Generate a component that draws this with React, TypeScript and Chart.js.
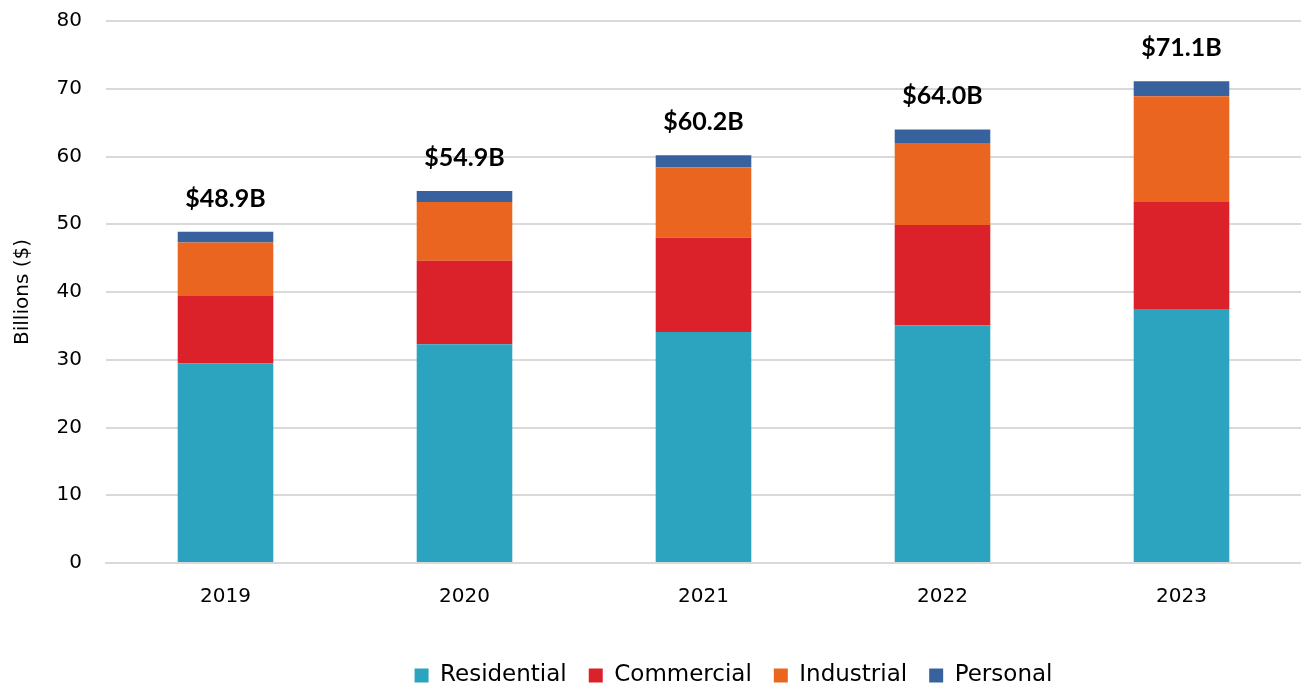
import React, { useEffect, useRef } from "react";
import { Chart, registerables } from "chart.js";

Chart.register(...registerables);

const years = ["2019", "2020", "2021", "2022", "2023"];
const residential = [29.5, 32.3, 34.1, 35.1, 37.5];
const commercial = [9.9, 12.3, 13.9, 14.8, 15.8];
const industrial = [7.9, 8.7, 10.4, 12.1, 15.6];
const personal = [1.6, 1.6, 1.8, 2.0, 2.2];
const totalLabels = ["$48.9B", "$54.9B", "$60.2B", "$64.0B", "$71.1B"];

const FONT = "'DejaVu Sans', 'Noto Sans', sans-serif";
const CANVAS_H = 697;
const LEGEND_SHIFT = 83;

const totalsPlugin = {
  id: "totals",
  afterLayout(chart: any) {
    const lg = chart.legend;
    if (lg) {
      lg.left += LEGEND_SHIFT;
      lg.right += LEGEND_SHIFT;
    }
  },
  afterDatasetsDraw(chart: any) {
    const ctx = chart.ctx;
    const lastMeta = chart.getDatasetMeta(chart.data.datasets.length - 1);
    ctx.save();
    ctx.font = "bold 25px Lato, 'Liberation Sans', sans-serif";
    ctx.fillStyle = "#000000";
    ctx.textAlign = "center";
    ctx.textBaseline = "middle";
    lastMeta.data.forEach((bar: any, i: number) => {
      ctx.fillText(totalLabels[i], bar.x, bar.y - 33);
    });
    ctx.restore();
  },
};

export default function App() {
  const ref = useRef<HTMLCanvasElement | null>(null);
  useEffect(() => {
    document.body.style.margin = "0";
    const chart = new Chart(ref.current as HTMLCanvasElement, {
      type: "bar",
      data: {
        labels: years,
        datasets: [
          { label: "Residential", data: residential, backgroundColor: "#2CA3BF" },
          { label: "Commercial", data: commercial, backgroundColor: "#DB2129" },
          { label: "Industrial", data: industrial, backgroundColor: "#EA651F" },
          { label: "Personal", data: personal, backgroundColor: "#38629E" },
        ],
      },
      options: {
        animation: false,
        responsive: false,
        maintainAspectRatio: false,
        datasets: { bar: { categoryPercentage: 1, barPercentage: 0.4 } },
        layout: { padding: { top: 21, right: 0, left: 0, bottom: 0 } },
        plugins: {
          tooltip: { enabled: false },
          legend: {
            position: "bottom",
            labels: {
              boxWidth: 14,
              boxHeight: 14,
              padding: 22,
              color: "#000000",
              font: { family: FONT, size: 23 },
            },
          },
        },
        scales: {
          x: {
            stacked: true,
            grid: { display: false, drawTicks: false },
            border: { color: "#d9d9d9", width: 2 },
            ticks: { color: "#000000", padding: 22, font: { family: FONT, size: 20 } },
            afterFit(scale: any) {
              scale.height = 79;
              scale.paddingLeft = 0;
              scale.paddingRight = 0;
            },
          },
          y: {
            stacked: true,
            min: 0,
            max: 80,
            grid: { color: "#d9d9d9", lineWidth: 2, drawTicks: false },
            border: { display: false },
            ticks: { stepSize: 10, color: "#000000", padding: 24, font: { family: FONT, size: 20 } },
            title: {
              display: true,
              text: "Billions ($)",
              color: "#000000",
              font: { family: FONT, size: 20 },
              padding: { top: 11, bottom: 0 },
            },
            afterFit(scale: any) {
              scale.width = 106;
              scale.paddingTop = 0;
              scale.paddingBottom = 0;
            },
          },
        },
      },
      plugins: [totalsPlugin],
    } as any);
    return () => chart.destroy();
  }, []);
  return (
    <div style={{ position: "absolute", left: 0, top: 0, width: 1301, height: 685, overflow: "hidden" }}>
      <canvas ref={ref} width={1301} height={CANVAS_H} />
    </div>
  );
}
